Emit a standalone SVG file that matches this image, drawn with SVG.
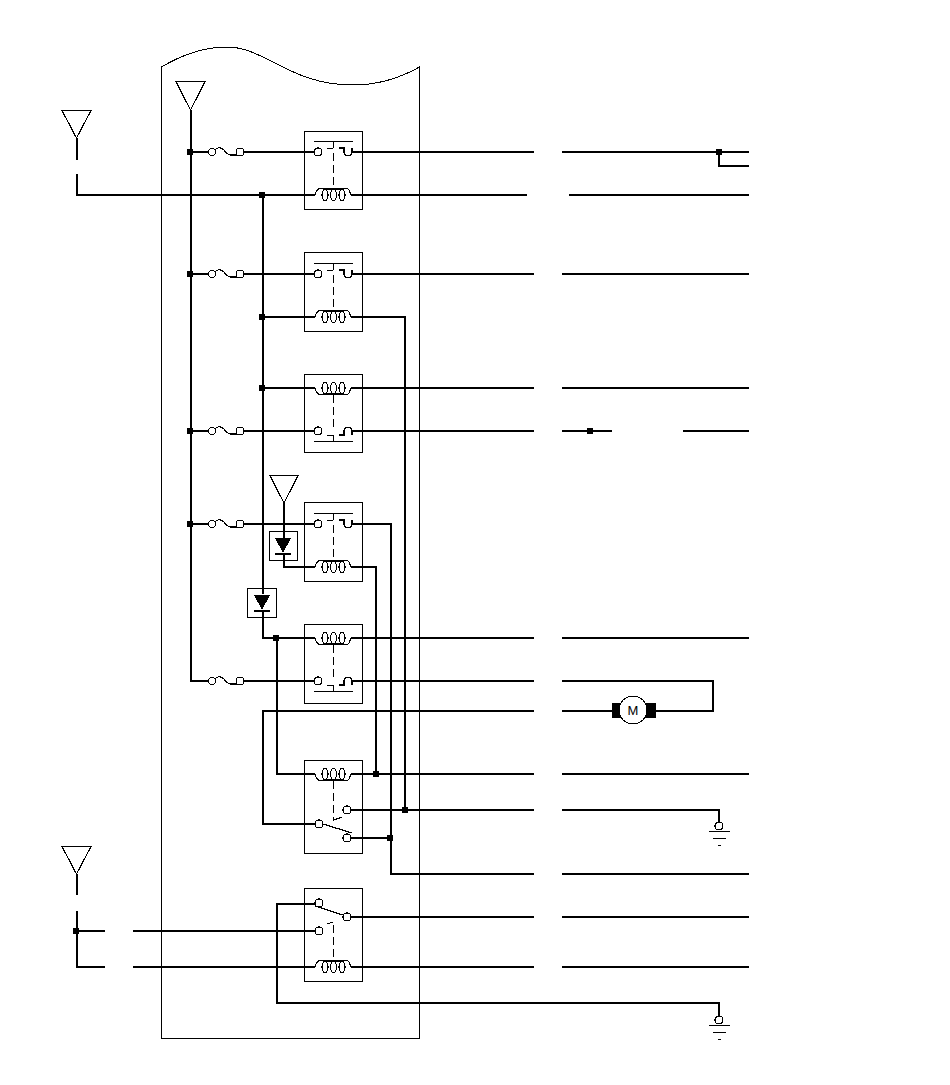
<svg xmlns="http://www.w3.org/2000/svg" width="950" height="1085" viewBox="0 0 950 1085" shape-rendering="crispEdges">
<style>
.w{fill:none;stroke:#000;stroke-width:2}
.t{fill:none;stroke:#000;stroke-width:1.2}
.b{fill:none;stroke:#000;stroke-width:1}
.d{fill:none;stroke:#000;stroke-width:1;stroke-dasharray:8 4}
.k{fill:#000;stroke:none}
.m{font-family:"Liberation Sans",Arial,sans-serif;font-size:13px;fill:#000;text-anchor:middle}
</style>
<defs>
<g id="coilUp"><path class="t" d="M315 0C316-4 317-6.500 320-6.500C323-6.500 324-6 325-6M333.500-6H325M333.500-6H342M342-6C344-6.500 348-7 349-5C350-3 350-1 351 0"/><ellipse class="t" cx="325" cy="0" rx="3" ry="5.500"/><ellipse class="t" cx="333.500" cy="0" rx="3" ry="5.500"/><ellipse class="t" cx="342" cy="0" rx="3" ry="5.500"/></g>
<g id="coilDown"><path class="t" d="M315 0C316 4 317 6.500 320 6.500C323 6.500 324 6 325 6M333.500 6H325M333.500 6H342M342 6C344 6.500 348 7 349 5C350 3 350 1 351 0"/><ellipse class="t" cx="325" cy="0" rx="3" ry="5.500"/><ellipse class="t" cx="333.500" cy="0" rx="3" ry="5.500"/><ellipse class="t" cx="342" cy="0" rx="3" ry="5.500"/></g>
<g id="fuse"><circle class="t" cx="212" cy="0" r="3.500"/><path class="t" d="M215-2C217-5 221-5 224-2C226 1 228 3 231 3H237"/><rect class="t" x="236.500" y="-3.500" width="7" height="7" rx="2"/></g>
<g id="contactTop"><path class="b" d="M314-10.500H353M333.500-10.500V-4M327-4H333"/><circle class="t" cx="318" cy="0" r="4"/><path class="t" d="M339-4H344V0C344 5 352 5 352 0V-4"/></g>
<g id="contactBottom"><path class="b" d="M314 10.500H353M333.500 10.500V4M327 4H333"/><circle class="t" cx="318" cy="0" r="4"/><path class="t" d="M339 4H344V0C344-5 352-5 352 0V4"/></g>
<g id="ground"><circle class="t" cx="719" cy="0" r="4"/><path class="b" d="M709 5.500H730M713 12.500H726M718 19.500H721"/></g>
<g id="diode"><path class="k" d="M-8-8H8L0 7Z"/><rect class="k" x="-8" y="7" width="16" height="2"/></g>
</defs>

<g id="module"><path class="b" d="M161.500 1038.500V67C185 53 205 47 227 47C265 47 290 85 353 85C380 85 400 78 419.500 67V1038.500Z"/></g>

<g id="connectors">
<path class="w" d="M191 110V681H208"/>
<path class="w" d="M77 138V160M77 174V195H315M351 195H527M569 195H749"/>
<path class="w" d="M263 195V594M263 611V638H315M351 638H534M562 638H749"/>
<path class="w" d="M190 152H208M244 152H314M353 152H534M562 152H749M719 152V166H749"/>
<path class="w" d="M190 274H208M244 274H314M353 274H534M562 274H749"/>
<path class="w" d="M262 317H315M351 317H405V810"/>
<path class="w" d="M262 388H315M351 388H534M562 388H749"/>
<path class="w" d="M190 431H208M244 431H314M353 431H534M562 431H612M683 431H749"/>
<path class="w" d="M190 524H208M244 524H314M353 524H391V874H534M562 874H749"/>
<path class="w" d="M284 503V538M284 555V567H315M351 567H376V774"/>
<path class="w" d="M277 638V774H315M351 774H534M562 774H749"/>
<path class="w" d="M244 681H314M353 681H534M562 681H713V711H655M612 711H562M534 711H263V824H315"/>
<path class="w" d="M351 810H534M562 810H719V823"/>
<path class="w" d="M351 838H391"/>
<path class="w" d="M315 904H277V1003H719V1016"/>
<path class="w" d="M133 931H315M133 967H315M351 967H534M562 967H749M351 917H534M562 917H749"/>
<path class="w" d="M77 874V895M77 911V967H105M76 931H105"/>
<path class="k" d="M187 149h6v6h-6zM187 271h6v6h-6zM187 428h6v6h-6zM187 521h6v6h-6zM259 192h6v6h-6zM259 314h6v6h-6zM259 385h6v6h-6zM273 635h6v6h-6zM716 149h6v6h-6zM587 428h6v6h-6zM73 928h6v6h-6z"/>
<circle cx="376" cy="774" r="3.500"/><circle cx="405" cy="810" r="3.500"/><circle cx="390" cy="838" r="3.500"/>
</g>

<g id="antenna-1"><path class="t" d="M62 110.500H91L76.500 138Z"/></g>
<g id="antenna-2"><path class="t" d="M176 81.500H205L190.500 110Z"/></g>
<g id="antenna-3"><path class="t" d="M270 475.500H298L284 503Z"/></g>
<g id="antenna-4"><path class="t" d="M62 846.500H91L76.500 874Z"/></g>

<g id="fuse-1"><use href="#fuse" y="152"/></g>
<g id="fuse-2"><use href="#fuse" y="274"/></g>
<g id="fuse-3"><use href="#fuse" y="431"/></g>
<g id="fuse-4"><use href="#fuse" y="524"/></g>
<g id="fuse-5"><use href="#fuse" y="681"/></g>

<g id="relay-1"><rect class="b" x="304.500" y="131.500" width="58" height="78"/><use href="#contactTop" y="152"/><path class="d" d="M333.500 153V187"/><use href="#coilUp" y="195"/></g>
<g id="relay-2"><rect class="b" x="304.500" y="252.500" width="58" height="79"/><use href="#contactTop" y="274"/><path class="d" d="M333.500 275V309"/><use href="#coilUp" y="317"/></g>
<g id="relay-3"><rect class="b" x="304.500" y="374.500" width="58" height="78"/><use href="#coilDown" y="388"/><path class="d" d="M333.500 395V431"/><use href="#contactBottom" y="431"/></g>
<g id="relay-4"><rect class="b" x="304.500" y="502.500" width="58" height="79"/><use href="#contactTop" y="524"/><path class="d" d="M333.500 525V559"/><use href="#coilUp" y="567"/></g>
<g id="relay-5"><rect class="b" x="304.500" y="624.500" width="58" height="79"/><use href="#coilDown" y="638"/><path class="d" d="M333.500 645V681"/><use href="#contactBottom" y="681"/></g>
<g id="relay-6"><rect class="b" x="304.500" y="760.500" width="58" height="93"/><use href="#coilDown" y="774"/><path class="d" d="M333.500 781V821"/><circle class="t" cx="319" cy="824" r="4"/><circle class="t" cx="347" cy="810" r="4"/><circle class="t" cx="347" cy="838" r="4"/><path class="t" d="M323 824L352 833M334 820L342 817"/></g>
<g id="relay-7"><rect class="b" x="304.500" y="888.500" width="58" height="93"/><circle class="t" cx="319" cy="903" r="4"/><circle class="t" cx="319" cy="931" r="4"/><circle class="t" cx="347" cy="917" r="4"/><path class="t" d="M315 906L343 915M327 924L333 922"/><path class="d" d="M333.500 925V960"/><use href="#coilUp" y="967"/></g>

<g id="diode-1"><rect class="b" x="269.500" y="531.500" width="28" height="29"/><use href="#diode" x="283" y="546"/></g>
<g id="diode-2"><rect class="b" x="247.500" y="588.500" width="29" height="29"/><use href="#diode" x="262" y="603"/></g>

<g id="motor"><rect class="k" x="612" y="703" width="44" height="15"/><circle cx="633" cy="710" r="14" fill="#fff" stroke="#000"/><text class="m" x="633" y="715">M</text></g>
<g id="ground-1"><use href="#ground" y="826"/></g>
<g id="ground-2"><use href="#ground" y="1020"/></g>
</svg>
